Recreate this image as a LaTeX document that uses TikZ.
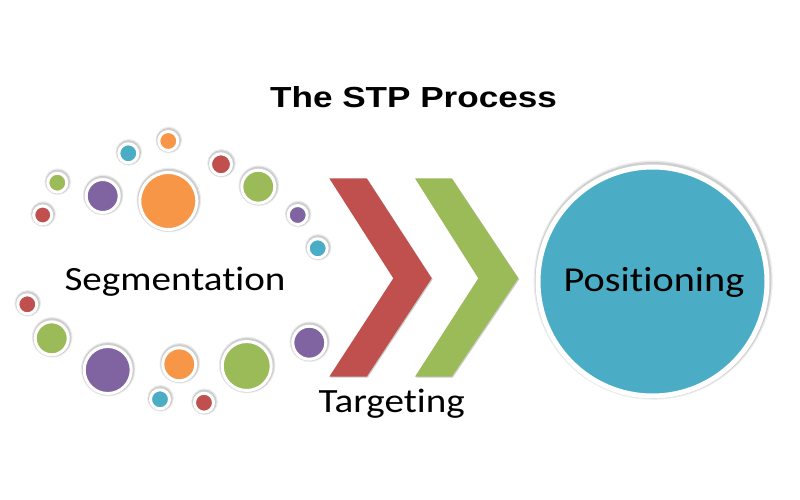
\documentclass[tikz,border=0pt]{standalone}
\usepackage{fontspec}
\setmainfont{Carlito}[Ligatures=NoCommon]
\newfontfamily\lblfont{Carlito}[Ligatures=NoCommon, FakeStretch=1.15]
\newfontfamily\titlefont{Liberation Sans}[FakeStretch=1.21]
\usetikzlibrary{shadows}
\definecolor{cRed}{HTML}{C0504D}
\definecolor{cGreen}{HTML}{9BBB59}
\definecolor{cPurple}{HTML}{8064A2}
\definecolor{cOrange}{HTML}{F79646}
\definecolor{cCyan}{HTML}{4BACC6}
\tikzset{
  dot/.style 2 args={circle, draw=white, line width=3pt, fill=#1, inner sep=0pt,
    minimum size={2*#2+3pt},
    preaction={draw=black, draw opacity=0.08, line width=7.5pt, transform canvas={shift={(0.5pt,1pt)}}},
    preaction={draw=black, draw opacity=0.12, line width=5.5pt, transform canvas={shift={(0.4pt,0.8pt)}}}},
  chev/.style={fill=#1, drop shadow={shadow xshift=1pt, shadow yshift=-1pt, opacity=0.2, fill=black}},
  lbl/.style={font=\lblfont\fontsize{34}{40}\selectfont, text=black, inner sep=0pt, anchor=base},
}
\begin{document}
\begin{tikzpicture}[x=1pt,y=-1pt]
\useasboundingbox (0,0) rectangle (800,500);
\fill[white] (0,0) rectangle (800,500);
% title
\node[inner sep=0pt, anchor=base, font=\titlefont\bfseries\fontsize{29}{34}\selectfont] (title) at (413.5,108) {The STP Process};
% upper arc of dots
\node[dot={cRed}{7.5pt}]    (d1)  at (42.7,215) {};
\node[dot={cGreen}{8pt}]    (d2)  at (57.3,182.7) {};
\node[dot={cCyan}{8pt}]     (d3)  at (128.3,153.3) {};
\node[dot={cOrange}{8pt}]   (d4)  at (168.3,141) {};
\node[dot={cPurple}{15pt}]  (d5)  at (102.7,196) {};
\node[dot={cOrange}{27pt}]  (d6)  at (168.3,201) {};
\node[dot={cRed}{9pt}]      (d7)  at (221,164.3) {};
\node[dot={cGreen}{15pt}]   (d8)  at (258.3,186.7) {};
\node[dot={cPurple}{8pt}]   (d9)  at (297.7,215) {};
\node[dot={cCyan}{8pt}]     (d10) at (317.7,248.3) {};
% lower arc of dots
\node[dot={cRed}{8pt}]      (d11) at (27.3,304.3) {};
\node[dot={cGreen}{15pt}]   (d12) at (51.7,338.3) {};
\node[dot={cPurple}{22pt}]  (d13) at (107.7,370) {};
\node[dot={cOrange}{15pt}]  (d14) at (179.3,364.3) {};
\node[dot={cGreen}{23pt}]   (d15) at (246.7,366) {};
\node[dot={cPurple}{15pt}]  (d16) at (309.3,342.7) {};
\node[dot={cCyan}{8pt}]     (d17) at (160,399.3) {};
\node[dot={cRed}{8pt}]      (d18) at (204,402.7) {};
% chevrons
\path[chev=cRed] (329.3,178.3) -- (366.7,178.3) -- (431.7,278.3) -- (366.7,376.7) -- (329.3,376.7) -- (393.3,278.3) -- cycle;
\path[chev=cGreen] (415,178.3) -- (451.7,178.3) -- (518.3,278.3) -- (451.7,376.7) -- (415,376.7) -- (478.3,278.3) -- cycle;
% positioning circle
\node[circle, draw=white, line width=5pt, fill=cCyan, inner sep=0pt, minimum size=229pt,
  preaction={draw=black, draw opacity=0.08, line width=10pt, transform canvas={shift={(0.7pt,1.4pt)}}},
  preaction={draw=black, draw opacity=0.12, line width=7.5pt, transform canvas={shift={(0.6pt,1.2pt)}}}] (pos) at (652.5,281.5) {};
% labels
\node[lbl] (seg) at (175,290) {Segmentation};
\node[lbl, font=\lblfont\fontsize{35}{40}\selectfont] (posl) at (654,291.7) {Positioning};
\node[lbl] (tgt) at (391.7,412.7) {Targeting};
\end{tikzpicture}
\end{document}
